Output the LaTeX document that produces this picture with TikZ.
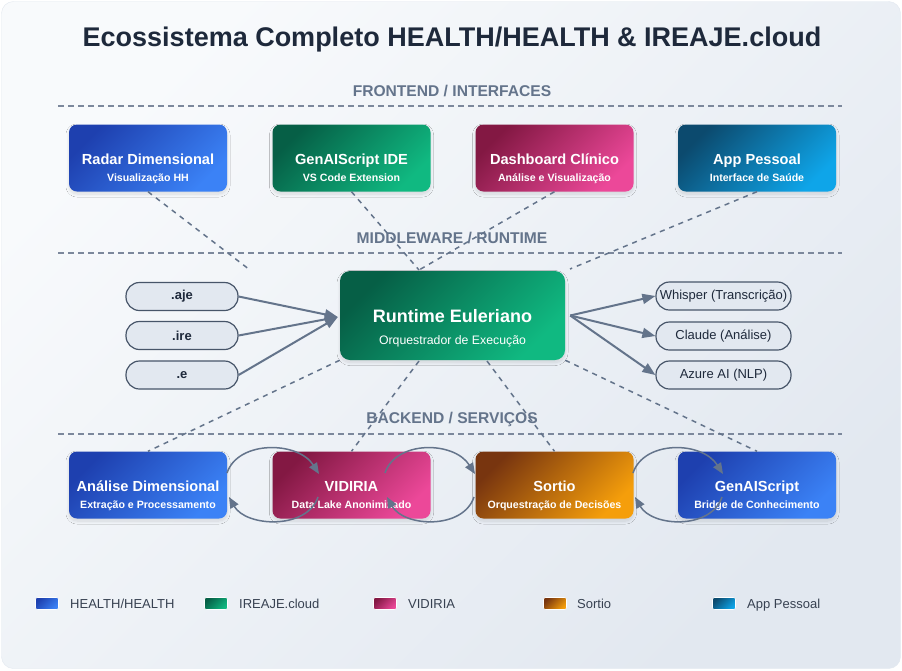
\documentclass[tikz,border=0pt]{standalone}
\usepackage{fontspec}
\setmainfont{Liberation Sans}
\usetikzlibrary{arrows.meta,calc,shadows.blur}
\definecolor{hhA}{HTML}{1E40AF}\definecolor{hhB}{HTML}{3B82F6}
\definecolor{irA}{HTML}{065F46}\definecolor{irB}{HTML}{10B981}
\definecolor{viA}{HTML}{831843}\definecolor{viB}{HTML}{EC4899}
\definecolor{soA}{HTML}{78350F}\definecolor{soB}{HTML}{F59E0B}
\definecolor{apA}{HTML}{0C4A6E}\definecolor{apB}{HTML}{0EA5E9}
\definecolor{slate}{HTML}{64748B}
\definecolor{divc}{HTML}{7C889C}
\definecolor{pillfill}{HTML}{E2E8F0}
\definecolor{pilldraw}{HTML}{475569}
\definecolor{ink}{HTML}{1E293B}
\definecolor{legc}{HTML}{374151}
\definecolor{bgA}{HTML}{F8FAFC}
\definecolor{bgB}{HTML}{E2E8F0}
\begin{document}
\begin{tikzpicture}[x=1pt,y=-1pt,
 box/.style={rounded corners=8pt, minimum width=158pt, minimum height=67pt, inner sep=0pt,
   blur shadow={shadow blur steps=16, shadow blur radius=3pt, shadow xshift=0pt, shadow yshift=-2.5pt, shadow opacity=12}},
 grad/.style 2 args={top color=#1, bottom color=#2, shading angle=45},
 ttl/.style={anchor=base, inner sep=0pt, text=white, font=\fontsize{14.6}{17}\selectfont\bfseries},
 sub/.style={anchor=base, inner sep=0pt, text=white, font=\fontsize{10.6}{12}\selectfont\bfseries},
 pill/.style={draw=pilldraw, fill=pillfill, line width=1.2pt, rounded corners=13.5pt, minimum height=28pt, inner sep=0pt, text=ink},
 lpill/.style={pill, minimum width=112pt, font=\fontsize{13}{15}\selectfont\bfseries},
 rpill/.style={pill, minimum width=135pt, font=\fontsize{13}{15}\selectfont},
 sect/.style={anchor=base, inner sep=0pt, text=slate, font=\fontsize{15.6}{18}\selectfont\bfseries},
 divider/.style={draw=divc, line width=1.3pt, dash pattern=on 6pt off 4pt},
 dl/.style={draw=slate, line width=1.5pt, dash pattern=on 5pt off 5pt},
 arr/.style={draw=slate, line width=2pt, -{Triangle[length=13pt,width=10pt]}},
 carr/.style={draw=slate, line width=1.5pt, -{Triangle[length=11pt,width=9pt]}},
 legsq/.style={rounded corners=2pt, minimum width=23pt, minimum height=12pt, inner sep=0pt, draw=white, line width=0.6pt},
 legtxt/.style={anchor=base west, inner sep=0pt, text=legc, font=\fontsize{13}{15}\selectfont}
]
\useasboundingbox (0,0) rectangle (902,670);
\fill[white] (0,0) rectangle (902,670);
\shade[top color=bgA, bottom color=bgB, shading angle=45, draw=bgB, rounded corners=12pt] (1.5,1.5) rectangle (900.5,668.5);

% title
\node[anchor=base, inner sep=0pt, text=ink, font=\fontsize{27}{30}\selectfont\bfseries] (title) at (452,46) {Ecossistema Completo HEALTH/HEALTH \& IREAJE.cloud};

% sections
\node[sect] (s1) at (452,96) {FRONTEND / INTERFACES};
\draw[divider] (58,106) -- (842,106);
\node[sect] (s2) at (452,243) {MIDDLEWARE / RUNTIME};
\draw[divider] (58,253) -- (842,253);
\node[sect] (s3) at (452,423) {BACKEND / SERVIÇOS};
\draw[divider] (58,434) -- (842,434);

% frontend
\node[box, grad={hhA}{hhB}] (radar) at (148,158) {};
\node[ttl] at ($(radar.center)+(0,6)$) {Radar Dimensional};
\node[sub] at ($(radar.center)+(0,23)$) {Visualização HH};
\node[box, grad={irA}{irB}] (ide) at (351.5,158) {};
\node[ttl] at ($(ide.center)+(0,6)$) {GenAIScript IDE};
\node[sub] at ($(ide.center)+(0,23)$) {VS Code Extension};
\node[box, grad={viA}{viB}] (dashb) at (554.5,158) {};
\node[ttl] at ($(dashb.center)+(0,6)$) {Dashboard Clínico};
\node[sub] at ($(dashb.center)+(0,23)$) {Análise e Visualização};
\node[box, grad={apA}{apB}] (app) at (757,158) {};
\node[ttl] at ($(app.center)+(0,6)$) {App Pessoal};
\node[sub] at ($(app.center)+(0,23)$) {Interface de Saúde};

% runtime
\node[box, grad={irA}{irB}, minimum width=225pt, minimum height=89pt, rounded corners=10pt] (rt) at (452.5,315.5) {};
\node[ttl, font=\fontsize{18}{20}\selectfont\bfseries] at ($(rt.center)+(0,6.5)$) {Runtime Euleriano};
\node[ttl, font=\fontsize{12.3}{14}\selectfont] at ($(rt.center)+(0,28.5)$) {Orquestrador de Execução};

% pills
\node[lpill] (aje) at (182,296.5) {.aje};
\node[lpill] (ire) at (182,335.5) {.ire};
\node[lpill] (ext) at (182,375) {.e};
\node[rpill] (whisper) at (723.5,296) {Whisper (Transcrição)};
\node[rpill] (claude) at (723.5,336) {Claude (Análise)};
\node[rpill] (azure) at (723.5,375) {Azure AI (NLP)};

% backend
\node[box, grad={hhA}{hhB}] (analise) at (148,485) {};
\node[ttl] at ($(analise.center)+(0,6)$) {Análise Dimensional};
\node[sub] at ($(analise.center)+(0,23)$) {Extração e Processamento};
\node[box, grad={viA}{viB}] (vidiria) at (351.5,485) {};
\node[ttl] at ($(vidiria.center)+(0,6)$) {VIDIRIA};
\node[sub] at ($(vidiria.center)+(0,23)$) {Data Lake Anonimizado};
\node[box, grad={soA}{soB}] (sortio) at (554.5,485) {};
\node[ttl] at ($(sortio.center)+(0,6)$) {Sortio};
\node[sub] at ($(sortio.center)+(0,23)$) {Orquestração de Decisões};
\node[box, grad={hhA}{hhB}] (genai) at (757,485) {};
\node[ttl] at ($(genai.center)+(0,6)$) {GenAIScript};
\node[sub] at ($(genai.center)+(0,23)$) {Bridge de Conhecimento};

% dashed links
\coordinate (m1) at (250,270);
\coordinate (m2) at (419,270);
\coordinate (m3) at (570,269);
\draw[dl] (radar.south) -- (m1);
\draw[dl] (ide.south) -- (m2);
\draw[dl] (dashb.south) -- (m2);
\draw[dl] (app.south) -- (m3);
\coordinate (b2) at (419,361);
\coordinate (b3) at (487,361);
\draw[dl] (rt.south west) -- (analise.north);
\draw[dl] (b2) -- (vidiria.north);
\draw[dl] (b3) -- (sortio.north);
\draw[dl] (rt.south east) -- (genai.north);

% arrows runtime
\coordinate (rtin) at ([xshift=-2pt,yshift=-1.5pt]rt.west);
\draw[arr] (aje.east) -- (rtin);
\draw[arr] (ire.east) -- (rtin);
\draw[arr] (ext.east) -- (rtin);
\coordinate (rtout) at ([xshift=5pt]rt.east);
\draw[arr] (rtout) -- (whisper.west);
\draw[arr] (rtout) -- (claude.west);
\draw[arr] (rtout) -- (azure.west);

% backend cycles
\coordinate (u1s) at (227,473); \coordinate (u1e) at (319,474);
\coordinate (l1s) at (318,497); \coordinate (l1e) at (229,497);
\draw[carr] (u1s) .. controls (238,440) and (298,441) .. (u1e);
\draw[carr] (l1s) .. controls (307,530) and (246,527) .. (l1e);
\coordinate (u2s) at (385,473); \coordinate (u2e) at (475,474);
\coordinate (l2s) at (474,497); \coordinate (l2e) at (387,497);
\draw[carr] (u2s) .. controls (396,440) and (454,441) .. (u2e);
\draw[carr] (l2s) .. controls (463,530) and (404,527) .. (l2e);
\coordinate (u3s) at (633,473); \coordinate (u3e) at (723,474);
\coordinate (l3s) at (722,497); \coordinate (l3e) at (635,497);
\draw[carr] (u3s) .. controls (644,440) and (702,441) .. (u3e);
\draw[carr] (l3s) .. controls (711,530) and (652,527) .. (l3e);

% legend
\node[legsq, grad={hhA}{hhB}] (lg1) at (47,603.5) {};
\node[legtxt] at (70,608.5) {HEALTH/HEALTH};
\node[legsq, grad={irA}{irB}] (lg2) at (216,603.5) {};
\node[legtxt] at (239,608.5) {IREAJE.cloud};
\node[legsq, grad={viA}{viB}] (lg3) at (385,603.5) {};
\node[legtxt] at (408,608.5) {VIDIRIA};
\node[legsq, grad={soA}{soB}] (lg4) at (555,603.5) {};
\node[legtxt] at (577,608.5) {Sortio};
\node[legsq, grad={apA}{apB}] (lg5) at (724,603.5) {};
\node[legtxt] at (747,608.5) {App Pessoal};
\end{tikzpicture}
\end{document}
